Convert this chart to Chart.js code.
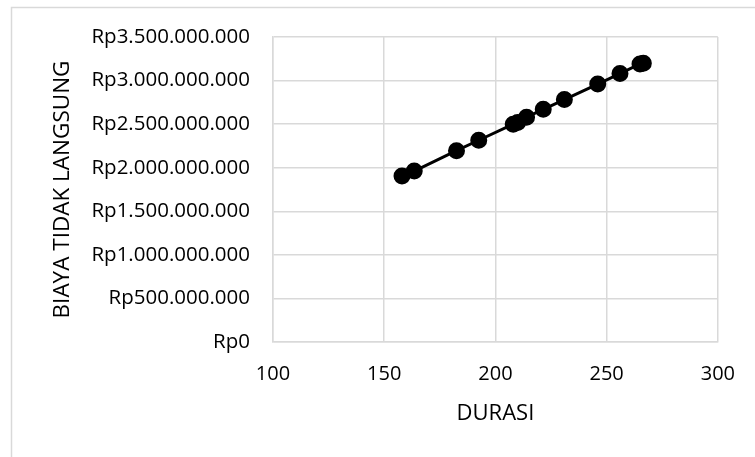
<!DOCTYPE html>
<html>
<head>
<meta charset="utf-8">
<script src="https://cdn.jsdelivr.net/npm/chart.js@4/dist/chart.umd.min.js"></script>
<style>
  html, body { margin: 0; padding: 0; background: #fff; }
  #wrap { width: 755px; height: 457px; position: relative; }
</style>
</head>
<body>
<div id="wrap"><canvas id="biayaChart" width="755" height="457"></canvas></div>
<script>
// durasi (hari) vs biaya tidak langsung
const durasi = [158, 163.5, 182.5, 192.5, 208, 210, 214, 221.5, 231, 246, 256, 265, 266.5];
const biaya = [1905000000, 1962000000, 2195000000, 2315000000, 2500000000, 2520000000, 2580000000,
  2670000000, 2782000000, 2960000000, 3080000000, 3190000000, 3200000000];
const xTicks = [100, 150, 200, 250, 300];
const yMax = 3500000000;
const yStep = 500000000;

const points = durasi.map((d, i) => ({ x: d, y: biaya[i] }));

function rupiah(v) {
  return 'Rp' + Math.round(v).toString().replace(/\B(?=(\d{3})+(?!\d))/g, '.');
}

const fontFam = "'Open Sans', sans-serif";
const gridCol = '#d9d9d9';

// kotak luar grafik
const outerBox = {
  id: 'outerBox',
  beforeDraw(chart) {
    const ctx = chart.ctx;
    ctx.save();
    ctx.fillStyle = '#fff';
    ctx.fillRect(0, 0, chart.width, chart.height);
    ctx.strokeStyle = gridCol;
    ctx.lineWidth = 1.5;
    ctx.strokeRect(11.5, 7.5, 900, 600);
    ctx.restore();
  }
};

const ctx = document.getElementById('biayaChart').getContext('2d');
const biayaChart = new Chart(ctx, {
  type: 'scatter',
  data: {
    datasets: [{
      data: points,
      showLine: true,
      borderColor: '#000',
      borderWidth: 3,
      backgroundColor: '#000',
      pointRadius: 7,
      pointHoverRadius: 7
    }]
  },
  options: {
    responsive: false,
    animation: false,
    layout: { padding: { top: 37, right: 35, left: 0, bottom: 0 } },
    plugins: { legend: { display: false }, tooltip: { enabled: false } },
    scales: {
      x: {
        type: 'linear',
        min: 100,
        max: 300,
        afterBuildTicks: s => { s.ticks = xTicks.map(v => ({ value: v })); },
        afterFit: s => { s.height = 115; },
        grid: { color: gridCol, lineWidth: 1.5, drawTicks: false },
        border: { color: gridCol, width: 1.5 },
        ticks: { color: '#000', padding: 20, font: { family: fontFam, size: 20 } },
        title: {
          display: true, text: 'DURASI', color: '#000',
          font: { family: fontFam, size: 22 }, padding: { bottom: 30 }
        }
      },
      y: {
        min: 0,
        max: yMax,
        ticks: {
          stepSize: yStep, color: '#000', padding: 23,
          font: { family: fontFam, size: 20.5 },
          callback: v => rupiah(v)
        },
        afterFit: s => { s.width = 273; },
        grid: { color: gridCol, lineWidth: 1.5, drawTicks: false },
        border: { color: gridCol, width: 1.5 },
        title: {
          display: true, text: 'BIAYA TIDAK LANGSUNG', color: '#000',
          font: { family: fontFam, size: 22.5 }, padding: { top: 49 }
        }
      }
    }
  },
  plugins: [outerBox]
});
</script>
</body>
</html>
